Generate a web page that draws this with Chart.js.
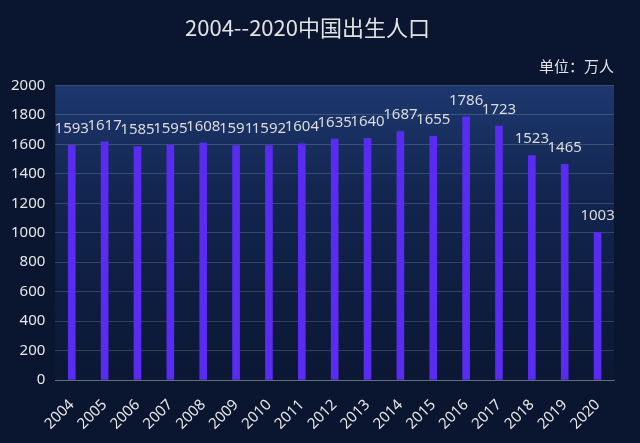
<!DOCTYPE html>
<html>
<head>
<meta charset="utf-8">
<script src="https://cdn.jsdelivr.net/npm/chart.js@4.4.1/dist/chart.umd.min.js"></script>
<style>
  html, body { margin:0; padding:0; background:#0a1630; }
  #wrap { width:640px; height:443px; }
</style>
</head>
<body>
<div id="wrap"><canvas id="birthChart"></canvas></div>
<script>
const years = ["2004","2005","2006","2007","2008","2009","2010","2011","2012","2013","2014","2015","2016","2017","2018","2019","2020"];
const births = [1593,1617,1585,1595,1608,1591,1592,1604,1635,1640,1687,1655,1786,1723,1523,1465,1003];
const yTicks = [0,200,400,600,800,1000,1200,1400,1600,1800,2000];

const ctx = document.getElementById("birthChart").getContext("2d");

// plot area gradient
const plotBg = {
  id: "plotBg",
  beforeDraw(chart){
    const a = chart.chartArea, c = chart.ctx;
    const g = c.createLinearGradient(0, a.top, 0, a.bottom);
    g.addColorStop(0, "#1d386f");
    g.addColorStop(0.35, "#132650");
    g.addColorStop(1, "#0b1733");
    c.save();
    c.fillStyle = g;
    c.fillRect(a.left, a.top, a.right - a.left, a.bottom - a.top);
    c.restore();
  }
};

// value labels above bars
const valueLabels = {
  id: "valueLabels",
  afterDatasetsDraw(chart){
    const c = chart.ctx;
    c.save();
    c.fillStyle = "#dcdcdc";
    c.font = "15px 'Noto Sans', sans-serif";
    c.textAlign = "center";
    c.textBaseline = "bottom";
    chart.getDatasetMeta(0).data.forEach((bar, i)=>{
      c.fillText(births[i], bar.x, bar.y - 9);
    });
    c.restore();
  }
};

new Chart(ctx, {
  type: "bar",
  data: {
    labels: years,
    datasets: [{
      data: births,
      backgroundColor: "#5a2cf2",
      barThickness: 7
    }]
  },
  options: {
    responsive: true,
    maintainAspectRatio: false,
    animation: false,
    layout: { padding: { left: 1, right: 26, top: 0, bottom: 2 } },
    plugins: {
      legend: { display: false },
      tooltip: { enabled: false },
      title: {
        display: true,
        text: "2004--2020中国出生人口",
        color: "#e2e2e2",
        font: { size: 22, family: "'Noto Sans CJK SC', sans-serif", weight: "normal" },
        padding: { top: 14, bottom: 10 }
      },
      subtitle: {
        display: true,
        text: "单位：万人",
        align: "end",
        color: "#e2e2e2",
        font: { size: 15, family: "'Noto Sans CJK SC', sans-serif" },
        padding: { top: 7, bottom: 10 }
      }
    },
    scales: {
      x: {
        grid: { display: false },
        border: { color: "rgba(255,255,255,0.25)" },
        afterFit(scale){ scale.paddingLeft = 0; },
        ticks: {
          color: "#e6e6e6",
          padding: 8,
          font: { size: 15, family: "'Noto Sans', sans-serif" },
          maxRotation: 45, minRotation: 45,
          autoSkip: false
        }
      },
      y: {
        min: 0, max: 2000,
        afterBuildTicks(scale){ scale.ticks = yTicks.map(v=>({ value: v })); },
        grid: { color: "rgba(255,255,255,0.16)", drawTicks: false },
        border: { display: false },
        ticks: {
          color: "#e6e6e6",
          padding: 10,
          font: { size: 15, family: "'Noto Sans', sans-serif" },
          callback: v => String(v)
        }
      }
    }
  },
  plugins: [plotBg, valueLabels]
});
</script>
</body>
</html>
